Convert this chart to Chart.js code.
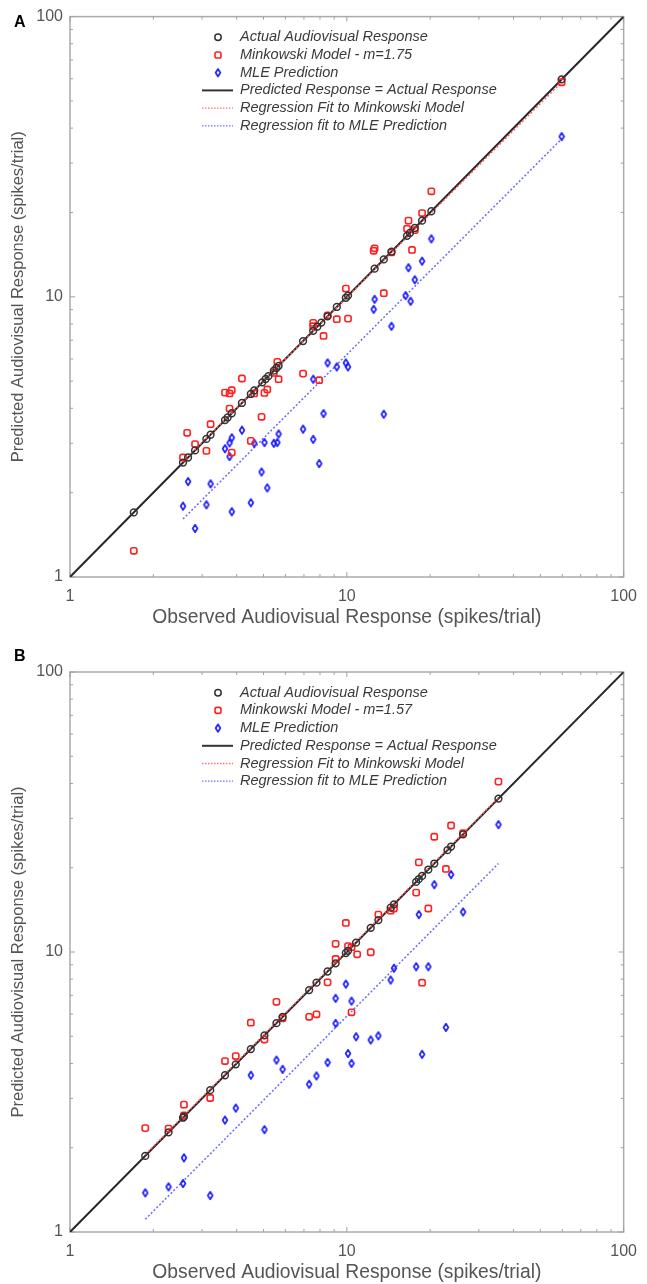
<!DOCTYPE html>
<html>
<head>
<meta charset="utf-8">
<script src="https://cdn.jsdelivr.net/npm/chart.js@4.4.1/dist/chart.umd.min.js"></script>
<style>
  body { margin: 0; background: #fff; }
  #wrap { position: relative; width: 647px; height: 1284px; }
  .panel { position: absolute; left: 0; width: 647px; }
  .lab { position: absolute; left: 14px; font: bold 16px "Liberation Sans", Arial, sans-serif; line-height: 16px; color: #000; }
</style>
</head>
<body>
<div id="wrap">
  <div class="panel" style="top:0;height:640px"><canvas id="chartA"></canvas></div>
  <div class="panel" style="top:640px;height:644px"><canvas id="chartB"></canvas></div>
  <div class="lab" style="top:14px">A</div>
  <div class="lab" style="top:648px">B</div>
</div>
<script>
// --- data (spikes/trial, log axes) ---
const tickVals = [1, 10, 100];
const minorVals = [2, 3, 4, 5, 6, 7, 8, 9, 20, 30, 40, 50, 60, 70, 80, 90];
const unityLine = [[1, 1], [100, 100]];

// panel A
const actualA = [1.70, 2.56, 2.67, 2.83, 3.11, 3.22, 3.63, 3.71, 3.84, 4.18, 4.50, 4.63, 4.95, 5.09, 5.21,
  5.45, 5.57, 5.67, 6.95, 7.56, 7.82, 8.09, 8.52, 9.20, 9.92, 10.1, 12.6, 13.6, 14.5, 16.5, 16.9,
  17.6, 18.7, 20.2, 59.7];
const minkA = [[1.70, 1.24], [2.56, 2.67], [2.65, 3.27], [2.83, 2.98], [3.11, 2.82], [3.22, 3.51],
  [3.63, 4.55], [3.77, 4.52], [3.84, 4.64], [3.77, 3.99], [3.84, 2.78], [4.18, 5.11], [4.50, 3.06],
  [4.63, 4.52], [4.92, 3.73], [5.04, 4.54], [5.16, 4.67], [5.45, 5.35], [5.61, 5.86], [5.67, 5.08],
  [6.95, 5.32], [7.56, 8.07], [7.56, 7.85], [8.24, 7.25], [7.95, 5.04], [8.52, 8.59], [9.20, 8.32],
  [10.1, 8.36], [9.92, 10.7], [13.6, 10.3], [12.5, 14.6], [12.6, 14.9], [14.5, 14.4], [17.2, 14.7],
  [16.5, 17.5], [16.7, 18.7], [17.6, 17.3], [18.7, 19.9], [20.2, 23.8], [59.7, 58.3]];
const mleA = [[59.7, 37.3], [20.2, 16.1], [18.7, 13.4], [16.7, 12.7], [17.6, 11.5], [12.6, 9.80],
  [12.5, 9.02], [16.3, 10.1], [17.0, 9.64], [14.5, 7.85], [8.52, 5.81], [9.20, 5.62], [9.92, 5.81],
  [10.1, 5.62], [7.56, 5.08], [8.24, 3.83], [13.6, 3.81], [6.95, 3.37], [7.56, 3.10], [7.95, 2.54],
  [4.18, 3.34], [3.84, 3.14], [3.77, 3.01], [3.63, 2.87], [3.77, 2.69], [4.63, 3.00], [5.04, 3.02],
  [5.45, 3.00], [5.61, 3.02], [5.67, 3.24], [4.92, 2.37], [5.16, 2.08], [2.67, 2.19], [3.22, 2.15],
  [2.56, 1.79], [3.11, 1.81], [4.50, 1.84], [3.84, 1.71], [2.83, 1.49]];
const fitMinkA = [[2.56, 2.58], [59.7, 58.3]];
const fitMleA = [[2.56, 1.61], [59.7, 36.6]];

// panel B
const actualB = [1.87, 2.27, 2.56, 2.58, 3.21, 3.63, 3.97, 4.50, 5.04, 5.57, 5.86, 7.31, 7.77, 8.52,
  9.11, 9.92, 10.1, 10.8, 12.2, 13.0, 14.4, 14.8, 17.8, 18.2, 18.7, 19.7, 20.7, 23.1, 23.8, 26.3, 35.3];
const minkB = [[35.3, 40.6], [23.8, 28.3], [20.7, 25.8], [26.3, 26.6], [18.2, 20.9], [22.8, 19.8],
  [17.8, 16.3], [19.7, 14.3], [14.4, 14.05], [14.8, 14.3], [13.0, 13.6], [9.92, 12.7], [9.11, 10.7],
  [10.1, 10.5], [10.4, 10.4], [10.9, 9.81], [12.2, 9.98], [9.11, 9.44], [18.7, 7.77], [8.52, 7.79],
  [5.57, 6.64], [7.31, 5.87], [7.77, 5.99], [10.4, 6.09], [5.86, 5.80], [4.50, 5.59], [5.04, 4.87],
  [3.63, 4.08], [3.97, 4.25], [2.58, 2.85], [2.58, 2.61], [3.21, 3.01], [1.87, 2.35], [2.27, 2.34]];
const mleB = [[35.3, 28.5], [23.8, 18.9], [20.7, 17.4], [18.2, 13.6], [26.3, 13.9], [14.8, 8.75],
  [14.4, 7.94], [17.8, 8.86], [19.7, 8.86], [9.92, 7.68], [9.11, 6.83], [10.4, 6.68], [9.11, 5.56],
  [10.8, 4.98], [12.2, 4.85], [13.0, 5.02], [22.8, 5.38], [18.7, 4.31], [10.1, 4.34], [10.4, 4.00],
  [8.52, 4.03], [7.77, 3.61], [7.31, 3.37], [5.57, 4.11], [5.86, 3.81], [4.50, 3.63], [3.97, 2.77],
  [3.63, 2.51], [5.04, 2.32], [2.58, 1.84], [1.87, 1.38], [2.27, 1.45], [2.56, 1.49], [3.21, 1.35]];
const fitMinkB = [[1.87, 1.89], [35.3, 35.6]];
const fitMleB = [[1.87, 1.11], [35.3, 20.7]];

const legendA = ['Actual Audiovisual Response', 'Minkowski Model - m=1.75', 'MLE Prediction',
  'Predicted Response = Actual Response', 'Regression Fit to Minkowski Model', 'Regression fit to MLE Prediction'];
const legendB = ['Actual Audiovisual Response', 'Minkowski Model - m=1.57', 'MLE Prediction',
  'Predicted Response = Actual Response', 'Regression Fit to Minkowski Model', 'Regression fit to MLE Prediction'];

const FONT = '"Liberation Sans", Arial, Helvetica, sans-serif';
const BLACK = '#333333', RED = '#ff2020', BLUE = '#2020ff';

// tall narrow diamond marker for the MLE points
function makeDiamond(color) {
  const c = document.createElement('canvas');
  c.width = 8; c.height = 11;
  const g = c.getContext('2d');
  g.strokeStyle = color;
  g.lineWidth = 1.7;
  g.lineJoin = 'round';
  g.beginPath();
  g.moveTo(4, 1.8); g.lineTo(6.4, 5.5); g.lineTo(4, 9.2); g.lineTo(1.6, 5.5);
  g.closePath();
  g.stroke();
  return c;
}
const diamondImg = makeDiamond(BLUE);

const pts = arr => arr.map(p => ({ x: p[0], y: p[1] }));
const onDiag = arr => arr.map(v => ({ x: v, y: v }));

// box round the plot plus small inward ticks on all four sides
const framePlugin = {
  id: 'frame',
  beforeDatasetsDraw(chart) {
    const { ctx, chartArea: a, scales: { x, y } } = chart;
    ctx.save();
    ctx.strokeStyle = '#ababab';
    ctx.lineWidth = 1.5;
    ctx.strokeRect(a.left, a.top, a.right - a.left, a.bottom - a.top);
    ctx.lineWidth = 1;
    ctx.strokeStyle = '#a0a0a0';
    ctx.beginPath();
    tickVals.concat(minorVals).forEach(v => {
      const len = tickVals.includes(v) ? 5 : 3;
      const px = x.getPixelForValue(v), py = y.getPixelForValue(v);
      ctx.moveTo(px, a.bottom); ctx.lineTo(px, a.bottom - len);
      ctx.moveTo(px, a.top); ctx.lineTo(px, a.top + len);
      ctx.moveTo(a.left, py); ctx.lineTo(a.left + len, py);
      ctx.moveTo(a.right, py); ctx.lineTo(a.right - len, py);
    });
    ctx.stroke();
    ctx.restore();
  }
};

// legend drawn inside the plot, upper left
const boxLegend = {
  id: 'boxLegend',
  afterDatasetsDraw(chart, args, opts) {
    const { ctx, chartArea: a } = chart;
    const mx = a.left + 148, tx = a.left + 170;
    ctx.save();
    opts.items.forEach((text, i) => {
      const y = a.top + 20.7 + i * 17.7;
      ctx.setLineDash([]);
      if (i === 0) {
        ctx.strokeStyle = BLACK; ctx.lineWidth = 1.5;
        ctx.beginPath(); ctx.arc(mx, y, 3.2, 0, Math.PI * 2); ctx.stroke();
      } else if (i === 1) {
        ctx.strokeStyle = RED; ctx.lineWidth = 1.6;
        ctx.beginPath(); ctx.roundRect(mx - 3, y - 3, 6, 6, 1.8); ctx.stroke();
      } else if (i === 2) {
        ctx.drawImage(diamondImg, mx - diamondImg.width / 2, y - diamondImg.height / 2);
      } else {
        ctx.beginPath();
        if (i === 3) { ctx.strokeStyle = BLACK; ctx.lineWidth = 2; }
        if (i === 4) { ctx.strokeStyle = '#ff7070'; ctx.lineWidth = 1.3; ctx.setLineDash([1.5, 1.5]); }
        if (i === 5) { ctx.strokeStyle = '#7070ff'; ctx.lineWidth = 1.3; ctx.setLineDash([1.5, 1.5]); }
        ctx.moveTo(a.left + 132, y); ctx.lineTo(a.left + 163, y); ctx.stroke();
      }
      ctx.setLineDash([]);
      ctx.fillStyle = '#3a3a3a';
      ctx.font = 'italic 14.5px ' + FONT;
      ctx.textBaseline = 'middle';
      ctx.textAlign = 'left';
      ctx.fillText(text, tx, y);
    });
    ctx.restore();
  }
};

function makeChart(id, actual, mink, mle, fitMink, fitMle, legendItems, topPad, xHeight, titlePad) {
  return new Chart(document.getElementById(id), {
    type: 'scatter',
    data: {
      datasets: [
        { data: pts(unityLine), showLine: true, borderColor: '#262626', borderWidth: 2, pointRadius: 0, order: 6 },
        { data: pts(fitMink), showLine: true, borderColor: '#ff6060', borderWidth: 1.5, borderDash: [2, 2], pointRadius: 0, order: 5 },
        { data: pts(fitMle), showLine: true, borderColor: '#6a6aff', borderWidth: 1.5, borderDash: [2, 2], pointRadius: 0, order: 4 },
        { data: pts(mle), pointStyle: diamondImg, pointRadius: 4, order: 3 },
        { data: pts(mink), pointStyle: 'rectRounded', pointRadius: 3.6, pointBorderColor: RED,
          pointBackgroundColor: 'rgba(0,0,0,0)', pointBorderWidth: 1.6, order: 2 },
        { data: onDiag(actual), pointStyle: 'circle', pointRadius: 3.4, pointBorderColor: BLACK,
          pointBackgroundColor: 'rgba(0,0,0,0)', pointBorderWidth: 1.5, order: 1 }
      ]
    },
    options: {
      responsive: true,
      maintainAspectRatio: false,
      animation: false,
      events: [],
      layout: { padding: { left: 0, right: 18, top: topPad, bottom: 0 } },
      plugins: {
        legend: { display: false },
        tooltip: { enabled: false },
        boxLegend: { items: legendItems }
      },
      scales: {
        x: {
          type: 'logarithmic', min: 1, max: 100,
          afterFit: s => { s.height = xHeight; },
          afterBuildTicks: s => { s.ticks = tickVals.map(v => ({ value: v })); },
          grid: { display: false, drawTicks: false },
          border: { display: false },
          ticks: { autoSkip: false, maxRotation: 0, padding: 10, color: '#555', font: { family: FONT, size: 16 },
            callback: v => String(v) },
          title: { display: true, text: 'Observed Audiovisual Response (spikes/trial)', color: '#555',
            font: { family: FONT, size: 19.3, lineHeight: 1 }, padding: { top: 0, bottom: titlePad } }
        },
        y: {
          type: 'logarithmic', min: 1, max: 100,
          afterFit: s => { s.width = 70; },
          afterBuildTicks: s => { s.ticks = tickVals.map(v => ({ value: v })); },
          grid: { display: false, drawTicks: false },
          border: { display: false },
          ticks: { autoSkip: false, padding: 7, color: '#555', font: { family: FONT, size: 16 },
            callback: v => String(v) },
          title: { display: true, text: 'Predicted Audiovisual Response (spikes/trial)', color: '#555',
            font: { family: FONT, size: 16.5, lineHeight: 1 }, padding: { top: 10, bottom: 0 } }
        }
      }
    },
    plugins: [framePlugin, boxLegend]
  });
}

makeChart('chartA', actualA, minkA, mleA, fitMinkA, fitMleA, legendA, 16, 63, 12.5);
makeChart('chartB', actualB, minkB, mleB, fitMinkB, fitMleB, legendB, 32, 52, 1.5);
</script>
</body>
</html>
